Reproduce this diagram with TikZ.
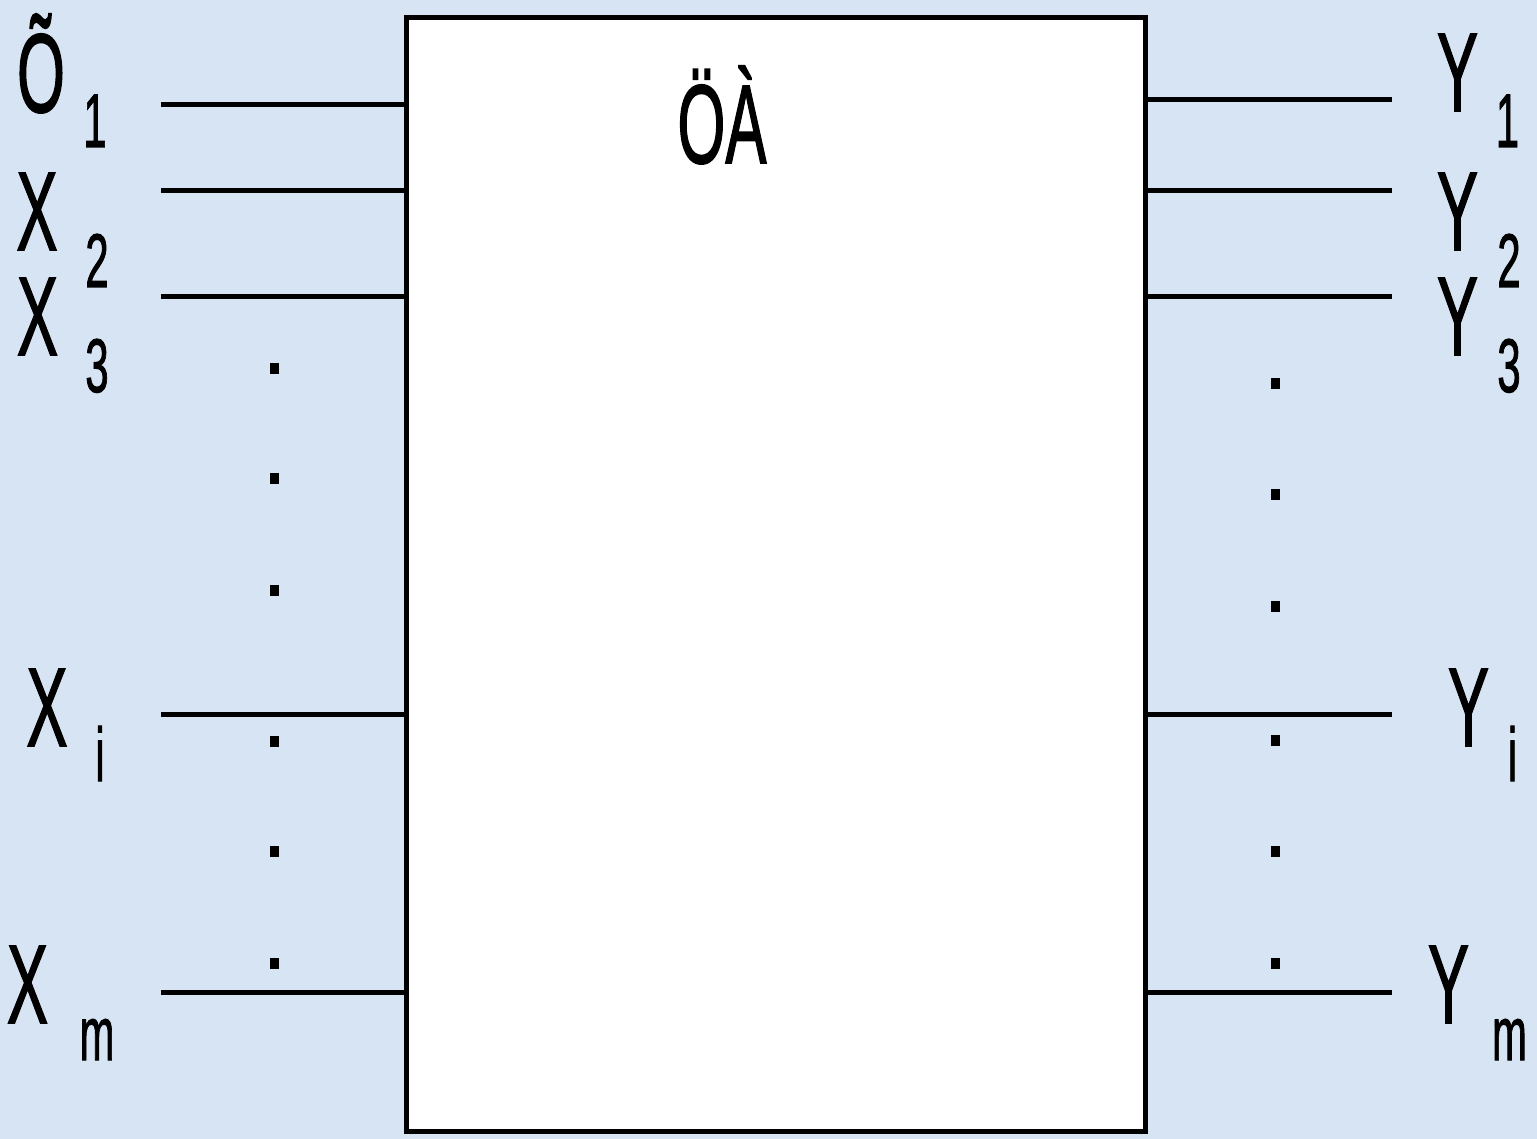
\documentclass[tikz,border=0pt]{standalone}
\usepackage{fontspec}
\setmainfont{Liberation Sans}
\newfontfamily\lblfont[FakeBold=1.6]{Liberation Sans}
\definecolor{bgblue}{RGB}{215,228,243}
\newcommand{\narrowtxt}[1]{\scalebox{0.55}[1]{#1}}
\tikzset{
  biglbl/.style={inner sep=0pt, anchor=base, font=\lblfont\fontsize{112}{112}\selectfont},
  sublbl/.style={inner sep=0pt, anchor=base, font=\lblfont\fontsize{76}{76}\selectfont},
  wire/.style={line width=5pt},
  dotmark/.style={fill=black, draw=none, minimum width=9pt, minimum height=11pt, inner sep=0pt, rectangle}
}
\begin{document}
\begin{tikzpicture}[x=1pt,y=-1pt]
\useasboundingbox (0,0) rectangle (1537,1139);
\fill[bgblue] (0,0) rectangle (1537,1139);
% main block
\node[draw, fill=white, line width=5pt, minimum width=739pt, minimum height=1113pt, inner sep=0pt] (box) at (775.5,574.5) {};
\node[biglbl] (title) at (722,163) {\narrowtxt{ÖÀ}};
% left wire ends
\foreach \n/\yy in {l1/105, l2/191, l3/297, li/714, lm/992}{
  \coordinate (\n) at (161,\yy);
  \draw[wire] (\n) -- (\n -| box.west);
}
% right wire ends
\foreach \n/\yy in {r1/100, r2/191, r3/297, ri/714, rm/992}{
  \coordinate (\n) at (1392,\yy);
  \draw[wire] (\n) -- (\n -| box.east);
}
% dots
\foreach \yy [count=\k] in {369,478,590,741,851,963}{
  \node[dotmark] (ld\k) at (274.5,\yy) {};
}
\foreach \yy [count=\k] in {384,494,606,740,851,963}{
  \node[dotmark] (rd\k) at (1275,\yy) {};
}
% left labels
\node[biglbl] (xl1) at (41,112) {\narrowtxt{Õ}};
\node[sublbl] (xs1) at (95,147) {\narrowtxt{1}};
\node[biglbl] (xl2) at (37,250) {\narrowtxt{X}};
\node[sublbl] (xs2) at (97,287) {\narrowtxt{2}};
\node[biglbl] (xl3) at (37.5,355) {\narrowtxt{X}};
\node[sublbl] (xs3) at (97,392) {\narrowtxt{3}};
\node[biglbl] (xli) at (47,746) {\narrowtxt{X}};
\node[sublbl] (xsi) at (100,781) {\narrowtxt{i}};
\node[biglbl] (xlm) at (27.5,1023) {\narrowtxt{X}};
\node[sublbl] (xsm) at (97,1060) {\narrowtxt{m}};
% right labels
\node[biglbl] (yl1) at (1457.5,111) {\narrowtxt{Y}};
\node[sublbl] (ys1) at (1507.5,147) {\narrowtxt{1}};
\node[biglbl] (yl2) at (1457.5,250) {\narrowtxt{Y}};
\node[sublbl] (ys2) at (1509,287) {\narrowtxt{2}};
\node[biglbl] (yl3) at (1457.5,355) {\narrowtxt{Y}};
\node[sublbl] (ys3) at (1509,392) {\narrowtxt{3}};
\node[biglbl] (yli) at (1468.5,746) {\narrowtxt{Y}};
\node[sublbl] (ysi) at (1512.5,781) {\narrowtxt{i}};
\node[biglbl] (ylm) at (1448.5,1023) {\narrowtxt{Y}};
\node[sublbl] (ysm) at (1509.5,1060) {\narrowtxt{m}};
\end{tikzpicture}
\end{document}
